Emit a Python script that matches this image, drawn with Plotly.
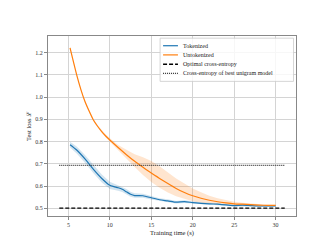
import plotly.graph_objects as go

# Tokenized run
tok_x = [5.2, 6, 7, 8, 9, 10, 10.5, 11, 11.5, 12, 12.5, 13, 14, 15, 16, 17, 18, 19, 20, 21, 22, 23, 24, 25, 26, 27, 28, 29, 30]
tok_y = [0.786, 0.762, 0.722, 0.676, 0.635, 0.603, 0.597, 0.592, 0.585, 0.574, 0.563, 0.557, 0.556, 0.547, 0.538, 0.533, 0.527, 0.530, 0.525, 0.522, 0.520, 0.518, 0.515, 0.512, 0.514, 0.512, 0.510, 0.510, 0.510]
tok_err = [0.013, 0.016, 0.017, 0.018, 0.018, 0.016, 0.014, 0.013, 0.012, 0.012, 0.011, 0.010, 0.009, 0.008, 0.007, 0.007, 0.006, 0.006, 0.005, 0.005, 0.005, 0.004, 0.004, 0.004, 0.004, 0.003, 0.003, 0.003, 0.003]

# Untokenized run
unt_x = [5.2, 5.5, 6, 6.5, 7, 7.5, 8, 8.5, 9, 9.5, 10, 11, 12, 13, 14, 15, 16, 17, 18, 19, 20, 21, 22, 23, 24, 25, 26, 27, 28, 29, 30]
unt_y = [1.222, 1.175, 1.10, 1.035, 0.98, 0.937, 0.898, 0.870, 0.846, 0.825, 0.807, 0.773, 0.741, 0.711, 0.684, 0.658, 0.634, 0.611, 0.589, 0.571, 0.556, 0.545, 0.536, 0.529, 0.524, 0.520, 0.518, 0.516, 0.514, 0.513, 0.513]
unt_up = [0.004, 0.004, 0.004, 0.004, 0.004, 0.005, 0.005, 0.005, 0.006, 0.007, 0.008, 0.012, 0.022, 0.032, 0.045, 0.055, 0.055, 0.05, 0.045, 0.04, 0.033, 0.027, 0.02, 0.016, 0.012, 0.009, 0.007, 0.005, 0.004, 0.003, 0.003]
unt_lo = [0.004, 0.004, 0.004, 0.004, 0.004, 0.005, 0.005, 0.005, 0.006, 0.007, 0.008, 0.010, 0.018, 0.025, 0.035, 0.04, 0.042, 0.04, 0.035, 0.03, 0.025, 0.02, 0.016, 0.012, 0.01, 0.008, 0.006, 0.005, 0.004, 0.003, 0.003]

h_x = [3.9, 31.1]
optimal_ce = 0.5
unigram_ce = 0.693

legend_labels = ["Tokenized", "Untokenized", "Optimal cross-entropy", "Cross-entropy of best unigram model"]

BLUE = "#1f77b4"
ORANGE = "#ff7f0e"
FONT = "Liberation Serif"

fig = go.Figure()

def band(x, lo, hi, fill):
    fig.add_trace(go.Scatter(x=x + x[::-1], y=hi + lo[::-1], fill="toself",
                             fillcolor=fill, line=dict(width=0), mode="lines",
                             showlegend=False, hoverinfo="skip"))

band(tok_x, [y - e for y, e in zip(tok_y, tok_err)], [y + e for y, e in zip(tok_y, tok_err)], "rgba(31,119,180,0.2)")
band(unt_x, [y - e for y, e in zip(unt_y, unt_lo)], [y + e for y, e in zip(unt_y, unt_up)], "rgba(255,127,14,0.2)")

styles = [dict(color=BLUE, width=1.2),
          dict(color=ORANGE, width=1.2),
          dict(color="black", width=1.3, dash="4px,2px"),
          dict(color="#333", width=1.3, dash="1px,1px")]

fig.add_trace(go.Scatter(x=tok_x, y=tok_y, mode="lines", name=legend_labels[0],
                         line=dict(shape="spline", smoothing=0.6, **styles[0])))
fig.add_trace(go.Scatter(x=unt_x, y=unt_y, mode="lines", name=legend_labels[1],
                         line=dict(shape="spline", smoothing=0.6, **styles[1])))
fig.add_trace(go.Scatter(x=h_x, y=[optimal_ce] * 2, mode="lines", name=legend_labels[2], line=styles[2]))
fig.add_trace(go.Scatter(x=h_x, y=[unigram_ce] * 2, mode="lines", name=legend_labels[3], line=styles[3]))

# Custom compact legend (matplotlib style)
fig.add_shape(type="rect", xref="paper", yref="paper", x0=0.452, x1=0.99, y0=0.748, y1=0.988,
              line=dict(color="#cccccc", width=0.8), fillcolor="rgba(255,255,255,0.8)", layer="above")
row_y = [0.946, 0.895, 0.843, 0.792]
for lab, st, yy in zip(legend_labels, styles, row_y):
    fig.add_shape(type="line", xref="paper", yref="paper", x0=0.464, x1=0.524, y0=yy, y1=yy,
                  line=st, layer="above")
    fig.add_annotation(x=0.538, y=yy, xref="paper", yref="paper", text=lab, showarrow=False,
                       xanchor="left", yanchor="middle",
                       font=dict(family=FONT, size=6, color="#222"))

# Y axis title placed like matplotlib's
fig.add_annotation(x=-0.081, y=0.5, xref="paper", yref="paper", text="Test loss ℒ",
                   textangle=-90, showarrow=False, xanchor="center", yanchor="middle",
                   font=dict(family=FONT, size=6.5, color="#222"))

axis_common = dict(showgrid=True, gridcolor="#d4d4d4", gridwidth=1, zeroline=False,
                   showline=True, linecolor="#888", linewidth=1, mirror=True,
                   ticks="outside", ticklen=3, tickcolor="#888",
                   tickfont=dict(family=FONT, size=6, color="#333"))

fig.update_layout(
    width=320, height=240,
    margin=dict(l=40, r=32, t=28, b=27),
    paper_bgcolor="white", plot_bgcolor="white",
    font=dict(family=FONT, size=6, color="#222"),
    xaxis=dict(range=[2.54, 32.46], tickvals=[5, 10, 15, 20, 25, 30],
               title=dict(text="Training time (s)", font=dict(family=FONT, size=6.5, color="#222"), standoff=3),
               **axis_common),
    yaxis=dict(range=[0.465, 1.275], tickvals=[0.5, 0.6, 0.7, 0.8, 0.9, 1.0, 1.1, 1.2], tickformat=".1f",
               **axis_common),
    showlegend=False,
)

fig.write_html("out.html")
